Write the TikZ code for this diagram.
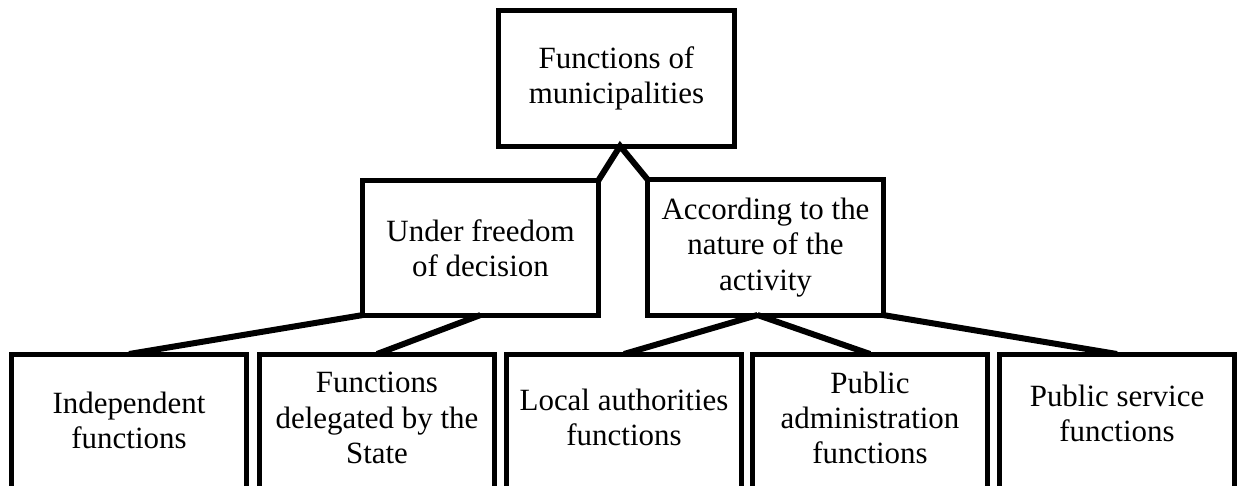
\documentclass[tikz,border=0pt]{standalone}
\usepackage{fontspec}
\setmainfont{Liberation Serif}
\tikzstyle{box} = [
  draw,
  line width=0.125cm,
  outer sep=0pt,
  minimum width=5.875cm,
  align=center,
  font=\fontsize{22pt}{25pt}\selectfont,
]
\tikzstyle{leaf} = [
  box,
  anchor=north,
  minimum height=6cm,
]
\tikzstyle{leaftext} = [
  align=center,
  font=\fontsize{22pt}{25pt}\selectfont,
]
\tikzstyle{link} = [
  line width=0.15cm,
  line join=miter,
]

\begin{document}
\begin{tikzpicture}[x=0.025cm, y=-0.025cm]
            \clip (0,0) rectangle (1242,486);

            % Top level
            \node[box, minimum height=3.375cm] (func) at (616.5,78.5) {Functions of\\municipalities};

            % Second level
            \node[box, minimum height=3.35cm] (freedom) at (480.5,248) {Under freedom\\of decision};
            \node[box, minimum height=3.375cm] (nature) at (765.5,247.5) {According to the\\nature of the\\activity};

            % Third level, boxes run past the bottom edge
            \node[leaf] (indep) at (129,354) {};
            \node[leaf] (deleg) at (377,354) {};
            \node[leaf] (local) at (624,354) {};
            \node[leaf] (padm) at (870,354) {};
            \node[leaf] (psrv) at (1117,354) {};

            % Third level texts
            \node[leaftext] (indeptext) at (129,420) {Independent\\functions};
            \node[leaftext] (delegtext) at (377,418) {Functions\\delegated by the\\State};
            \node[leaftext] (localtext) at (624,417) {Local authorities\\functions};
            \node[leaftext] (padmtext) at (870,418) {Public\\administration\\functions};
            \node[leaftext] (psrvtext) at (1117,413) {Public service\\functions};

            % Links
            \draw[link] (freedom.north east) -- ([xshift=0.09cm]func.south) -- (nature.north west);
            \draw[link] (freedom.south west) -- (indep.north);
            \draw[link] (freedom.south) -- (deleg.north);
            \draw[link] ([xshift=-0.2cm]nature.south) -- (local.north);
            \draw[link] ([xshift=-0.2cm]nature.south) -- (padm.north);
            \draw[link] (nature.south east) -- (psrv.north);
          \end{tikzpicture}
\end{document}
